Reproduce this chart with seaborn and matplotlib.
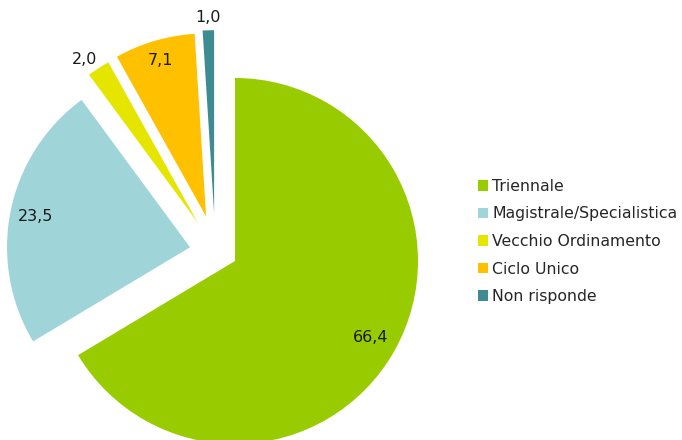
import numpy as np
import matplotlib
matplotlib.use("Agg")
import matplotlib.pyplot as plt
import seaborn as sns

# data
categories = ["Triennale", "Magistrale/Specialistica", "Vecchio Ordinamento",
              "Ciclo Unico", "Non risponde"]
values = [66.4, 23.5, 2.0, 7.1, 1.0]
value_labels = ["66,4", "23,5", "2,0", "7,1", "1,0"]
colors = ["#99CC00", "#9FD4D8", "#E5E500", "#FFC000", "#3E8C91"]

sns.set_style("white")
plt.rcParams["font.family"] = ["DejaVu Sans"]

W, H, dpi = 682, 440, 100
fig = plt.figure(figsize=(W / dpi, H / dpi), dpi=dpi)
ax = fig.add_axes([0, 0, 1, 1])

# pie centre and radius in pixels
cx, cy, R = 235, 261, 183

wedges, _ = ax.pie(values, colors=colors, startangle=90, counterclock=False,
                   radius=1, wedgeprops=dict(linewidth=0))
ax.set_xlim(-cx / R, (W - cx) / R)
ax.set_ylim(-(H - cy) / R, cy / R)
ax.set_aspect("equal")
ax.axis("off")

# explosion (distance in radii, direction in degrees), like the Excel original
explode_dist = [0, 0.257, 0.295, 0.29, 0.285]
explode_dir = [0, 163, 134, 123, 113.6]
for w, d, a in zip(wedges, explode_dist, explode_dir):
    w.set_center((d * np.cos(np.deg2rad(a)), d * np.sin(np.deg2rad(a))))

# value labels: distance from each wedge's own centre
label_dist = [0.85, 0.86, 1.08, 0.89, 1.07]
label_shift = [0, 0, 2, 0, 0]
for w, lab, d, s in zip(wedges, value_labels, label_dist, label_shift):
    ang = np.deg2rad((w.theta1 + w.theta2) / 2 + s)
    x0, y0 = w.center
    ax.text(x0 + d * np.cos(ang), y0 + d * np.sin(ang), lab,
            ha="center", va="center", fontsize=11.5, color="#1a1a1a")

fig.legend(wedges, categories, loc="upper left",
           bbox_to_anchor=(470 / W, 1 - 171 / H), frameon=False,
           fontsize=11.3, handlelength=0.66, handleheight=0.66,
           handletextpad=0.25, labelspacing=0.8, borderpad=0)

fig.savefig("out.png", dpi=dpi)
